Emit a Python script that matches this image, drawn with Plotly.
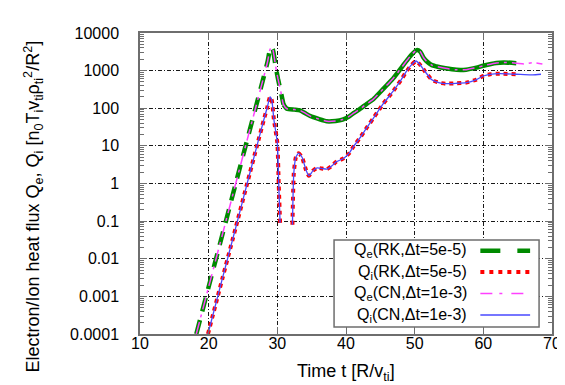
import plotly.graph_objects as go

# ---------------- data ----------------
t_qe = [18.2, 20.0, 22.0, 24.0, 26.0, 28.0, 28.6, 28.9, 29.1, 29.35, 29.75, 30.1, 30.5, 30.9,
        31.4, 32.5, 33.3, 34.0, 34.8, 36.0, 37.2, 38.5, 39.5, 40.3, 41.1, 42.0, 43.0, 44.0,
        45.0, 46.0, 46.9, 48.0, 48.8, 49.5, 50.3, 50.8, 51.3, 51.7, 52.5, 53.2, 54.5, 56.1,
        57.5, 59.0, 60.0, 61.9, 63.0, 64.8, 66.0, 67.2, 68.6]
qe_cn = [1e-4, 0.0018, 0.044, 1.1, 27, 660, 1800, 3500, 4200, 3600, 1300, 600, 280, 125,
         97, 92, 88, 75, 62, 52, 45, 46, 50, 58, 74, 95, 130, 175,
         270, 420, 630, 1150, 1800, 2600, 3500, 3200, 2200, 1800, 1400, 1290, 1150, 1050,
         1060, 1200, 1350, 1600, 1650, 1580, 1500, 1640, 1500]

t_qi = [19.9, 22.0, 24.0, 26.0, 27.0, 28.0, 28.5, 28.94, 29.2, 29.5, 30.0, 30.2, 30.4, 31.3,
        32.2, 32.4, 32.7, 33.1, 33.6, 34.2, 34.6, 35.2, 35.8, 36.5, 37.2, 38.0, 38.5, 39.7,
        40.5, 41.1, 42.0, 43.0, 44.0, 44.5, 45.4, 46.9, 48.0, 48.8, 49.5, 50.2, 50.7, 51.5,
        52.5, 53.5, 54.5, 56.0, 57.5, 59.0, 60.0, 61.0, 62.4, 64.8, 66.0, 67.2, 68.4]
qi_cn = [1e-4, 0.003, 0.074, 1.9, 9.5, 47, 100, 200, 160, 50, 12, 1.0, 0.09, None,
         0.08, 1.9, 5.0, 6.4, 5.0, 2.2, 1.6, 2.2, 2.6, 2.5, 2.4, 3.0, 3.7, 4.7,
         6.5, 9.7, 16, 30, 55, 75, 130, 290, 560, 950, 1400, 1800, 1500, 950,
         570, 480, 450, 460, 480, 580, 720, 800, 830, 800, 780, 770, 800]

t_rk_end = 64.8       # RK runs stop here
t_qe_dash_end = 30.9  # RK Qe drawn dashed up to here (sparse output), solid afterwards

x_ticks = [10, 20, 30, 40, 50, 60, 70]
y_ticks = [1e-4, 1e-3, 1e-2, 1e-1, 1, 10, 100, 1000, 10000]
y_ticktext = ["0.0001", "0.001", "0.01", "0.1", "1", "10", "100", "1000", "10000"]

legend_labels = ["Q<sub>e</sub>(RK,Δt=5e-5)", "Q<sub>i</sub>(RK,Δt=5e-5)",
                 "Q<sub>e</sub>(CN,Δt=1e-3)", "Q<sub>i</sub>(CN,Δt=1e-3)"]

# ---------------- styles ----------------
GREEN = "#008a00"
RED = "#ff0000"
MAGENTA = "#ff40ff"
BLUE = "#4848ff"
FONT = "Liberation Sans, Arial, sans-serif"

# ---------------- derived series ----------------
qe_rk_dash_t = [t for t in t_qe if t <= t_qe_dash_end]
qe_rk_dash_v = [v for t, v in zip(t_qe, qe_cn) if t <= t_qe_dash_end]
qe_rk_solid_t = [t for t in t_qe if t_qe_dash_end <= t <= t_rk_end]
qe_rk_solid_v = [v for t, v in zip(t_qe, qe_cn) if t_qe_dash_end <= t <= t_rk_end]
qi_rk_t = [t for t in t_qi if t <= t_rk_end]
qi_rk_v = [v for t, v in zip(t_qi, qi_cn) if t <= t_rk_end]

fig = go.Figure()
kw = dict(mode="lines", showlegend=False, hoverinfo="skip", connectgaps=False)
fig.add_trace(go.Scatter(x=qe_rk_dash_t, y=qe_rk_dash_v,
                         line=dict(color=GREEN, width=4.5, dash="14px,9px",
                                   shape="spline", smoothing=0.5), **kw))
fig.add_trace(go.Scatter(x=qe_rk_solid_t, y=qe_rk_solid_v,
                         line=dict(color=GREEN, width=4.5, shape="spline", smoothing=0.5), **kw))
fig.add_trace(go.Scatter(x=qi_rk_t, y=qi_rk_v,
                         line=dict(color=RED, width=4, dash="4px,4px",
                                   shape="spline", smoothing=0.5), **kw))
fig.add_trace(go.Scatter(x=t_qe, y=qe_cn,
                         line=dict(color=MAGENTA, width=1.5, dash="12px,5px,3px,5px",
                                   shape="spline", smoothing=0.5), **kw))
fig.add_trace(go.Scatter(x=t_qi, y=qi_cn,
                         line=dict(color=BLUE, width=1.3, shape="spline", smoothing=0.5), **kw))

# ---------------- layout ----------------
W, H = 565, 385
L, R, T, B = 132, 19, 25, 59
pw, ph = W - L - R, H - T - B


def px(xp):
    return (xp - L) / pw


def py(yp):
    return (H - B - yp) / ph


axis_common = dict(
    showline=True, linecolor="#6e6e6e", linewidth=1.5, mirror="ticks",
    ticks="inside", ticklen=7, tickcolor="#6e6e6e", tickwidth=1,
    showgrid=True, gridcolor="rgba(0,0,0,0.9)", gridwidth=1, griddash="4px,2px,1px,2px",
    zeroline=False, tickfont=dict(family=FONT, size=16, color="#000"),
)

fig.update_layout(
    width=W, height=H, margin=dict(l=L, r=R, t=T, b=B, pad=0),
    paper_bgcolor="white", plot_bgcolor="white",
    font=dict(family=FONT, size=16, color="#000"),
    xaxis=dict(range=[10, 70], tickvals=x_ticks, ticklabelstandoff=-6, **axis_common),
    yaxis=dict(type="log", range=[-4, 4], tickvals=y_ticks, ticktext=y_ticktext,
               ticklabelstandoff=16,
               minor=dict(ticks="inside", ticklen=4, tickcolor="#6e6e6e", dtick="D1", showgrid=False),
               **axis_common),
    showlegend=False,
)

annotations = [
    dict(text="Time t [R/v<sub>ti</sub>]", xref="paper", yref="paper", x=px(339), y=py(364),
         xanchor="center", yanchor="middle", showarrow=False, font=dict(family=FONT, size=18)),
    dict(text="Electron/Ion heat flux Q<sub>e</sub>, Q<sub>i</sub> [n<sub>0</sub>T<sub>i</sub>v<sub>ti</sub>ρ<sub>ti</sub><sup>2</sup>/R<sup>2</sup>]",
         xref="paper", yref="paper", x=px(24), y=py(199), textangle=-90,
         xanchor="center", yanchor="middle", showarrow=False, font=dict(family=FONT, size=18)),
]

# manual legend (text right-aligned, line sample on the right)
shapes = [dict(type="rect", xref="paper", yref="paper", x0=px(327), x1=px(533), y0=py(319), y1=py(232),
               line=dict(color="#6e6e6e", width=1.5), fillcolor="white", layer="above")]
row_y = [242.7, 264.0, 285.5, 307.0]
samples = [dict(color=GREEN, width=4.5, dash="20px,17px"),
           dict(color=RED, width=4, dash="4px,5px"),
           dict(color=MAGENTA, width=1.5, dash="12px,7px,3px,9px"),
           dict(color=BLUE, width=1.3, dash="solid")]
for lab, yy, st in zip(legend_labels, row_y, samples):
    annotations.append(dict(text=lab, xref="paper", yref="paper", x=px(463), y=py(yy),
                            xanchor="right", yanchor="middle", showarrow=False,
                            font=dict(family=FONT, size=16)))
    shapes.append(dict(type="line", xref="paper", yref="paper", x0=px(474), x1=px(524),
                       y0=py(yy), y1=py(yy), line=st, layer="above"))

fig.update_layout(annotations=annotations, shapes=shapes)
fig.write_html("out.html", config={"displayModeBar": False})
